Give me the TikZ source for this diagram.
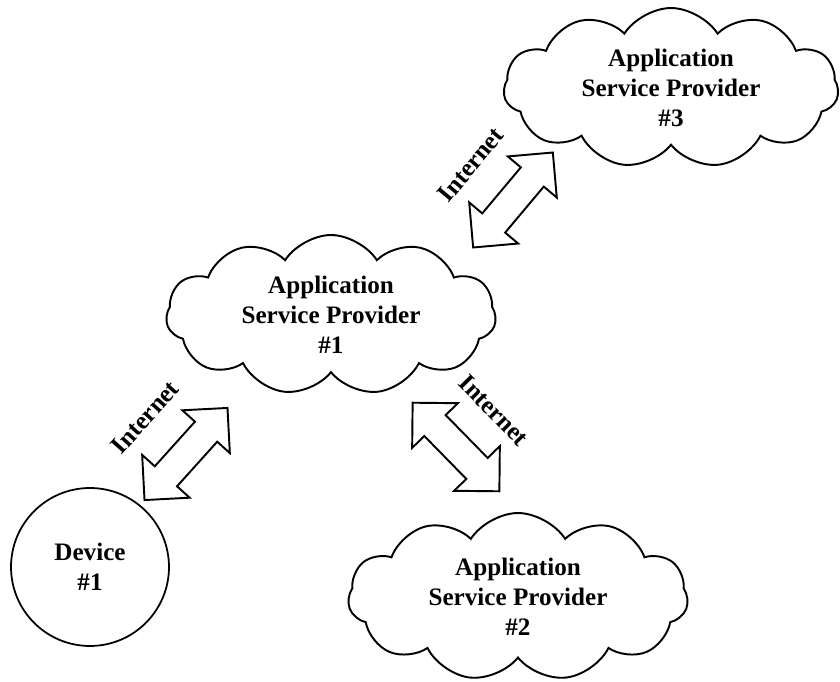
\documentclass[tikz,border=0pt]{standalone}
\usepackage{fontspec}
\setmainfont{Liberation Serif}
\usetikzlibrary{shapes.symbols,shapes.arrows,calc}

\begin{document}
\begin{tikzpicture}[x=0.02cm,y=-0.02cm,inner sep=0pt,outer sep=0pt,line width=1.1pt,
txt/.style={font=\bfseries\fontsize{14.3}{17}\selectfont,align=center},
provider/.style={txt,draw,cloud,cloud puffs=11,cloud puff arc=115,aspect=2.1,minimum width=6.6cm,minimum height=3.2cm},
device/.style={txt,draw,circle,minimum size=3.16cm,line width=1pt},
link/.style={draw,double arrow,minimum height=2.48cm,inner sep=0.28cm,double arrow head extend=0.34cm,double arrow head indent=0pt}]
\useasboundingbox (0,0) rectangle (840,682);

\draw (90,567) node[device] (dev1) {Device\\\#1};
\draw (331,315) node[provider] (asp1) {Application\\Service Provider\\\#1};
\draw (518,597) node[provider,minimum width=6.8cm,minimum height=3.36cm] (asp2) {Application\\Service Provider\\\#2};
\draw (671,88) node[provider,minimum width=6.7cm] (asp3) {Application\\Service Provider\\\#3};

% internet links
\draw (186,454) node[link,rotate=48] (lnk1) {};
\draw (456,447) node[link,rotate=-45.6] (lnk2) {};
\draw (513,200) node[link,rotate=50] (lnk3) {};
\node[txt,rotate=48] (net1) at ($(lnk1)!1.1cm!90:(lnk1.east)$) {Internet};
\node[txt,rotate=-45.6] (net2) at ($(lnk2)!1.06cm!90:(lnk2.east)$) {Internet};
\node[txt,rotate=50] (net3) at ($(lnk3)!1.1cm!90:(lnk3.east)$) {Internet};
\end{tikzpicture}
\end{document}
